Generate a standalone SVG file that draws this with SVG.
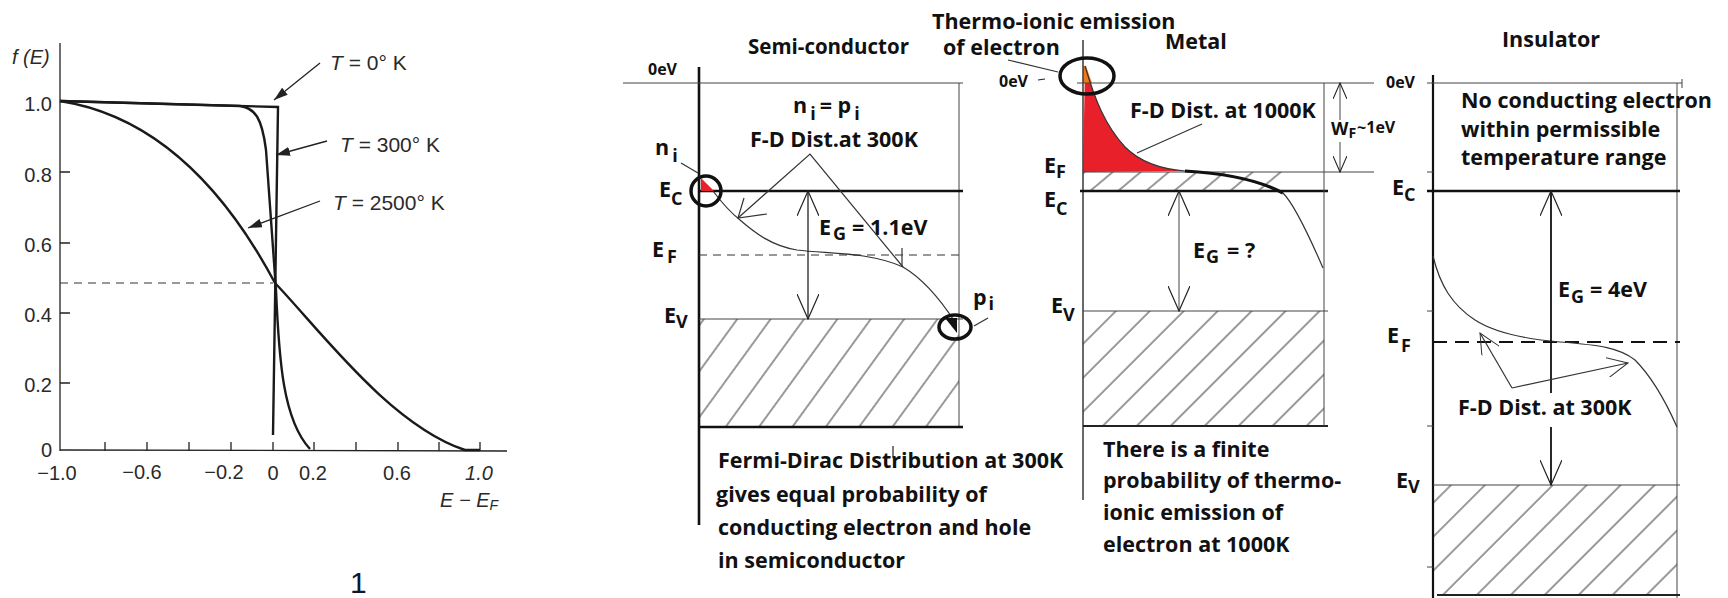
<svg xmlns="http://www.w3.org/2000/svg" width="1728" height="598" viewBox="0 0 1728 598">
<defs>
<style>
.pl{font-family:"Liberation Sans",Arial,sans-serif;fill:#2a2a2a;font-size:20px}
.it{font-style:italic}
.b{font-family:"Open Sans","Liberation Sans",sans-serif;font-weight:700;fill:#111}
.s20{font-size:21.5px}
.s21{font-size:21px}
.s15{font-size:16px}
.ln{stroke:#222;fill:none;stroke-width:1.3}
.thin{stroke:#444;fill:none;stroke-width:1}
.thick{stroke:#111;fill:none;stroke-width:2.6}
.curve{stroke:#333;fill:none;stroke-width:1.2}
.dash{stroke:#333;fill:none;stroke-width:1.2;stroke-dasharray:8 6}
.dashb{stroke:#111;fill:none;stroke-width:2;stroke-dasharray:14 8}
.ring{stroke:#111;fill:none;stroke-width:3.5}
</style>
<pattern id="h45" width="24" height="24" patternUnits="userSpaceOnUse" patternTransform="rotate(45)">
<line x1="1" y1="0" x2="1" y2="24" stroke="#333" stroke-width="1"/>
</pattern>
<pattern id="h36" width="27" height="27" patternUnits="userSpaceOnUse" patternTransform="rotate(36)">
<line x1="1" y1="0" x2="1" y2="27" stroke="#333" stroke-width="1"/>
</pattern>
<pattern id="h45s" width="18" height="18" patternUnits="userSpaceOnUse" patternTransform="rotate(50)">
<line x1="1" y1="0" x2="1" y2="18" stroke="#333" stroke-width="1"/>
</pattern>
<marker id="fa" viewBox="0 0 14 9" refX="14" refY="4.5" markerWidth="14" markerHeight="9" markerUnits="userSpaceOnUse" orient="auto">
<path d="M0,0 L14,4.5 L0,9 Z" fill="#222"/>
</marker>
<marker id="va" viewBox="0 0 26 22" refX="25" refY="11" markerWidth="26" markerHeight="22" markerUnits="userSpaceOnUse" orient="auto-start-reverse">
<path d="M0,0 L25,11 L0,22" fill="none" stroke="#222" stroke-width="1.2"/>
</marker>
<marker id="vm" viewBox="0 0 17 14" refX="16" refY="7" markerWidth="17" markerHeight="14" markerUnits="userSpaceOnUse" orient="auto-start-reverse">
<path d="M0,0 L16,7 L0,14" fill="none" stroke="#222" stroke-width="1.1"/>
</marker>
<marker id="vs" viewBox="0 0 22 20" refX="21" refY="10" markerWidth="22" markerHeight="20" markerUnits="userSpaceOnUse" orient="auto">
<path d="M0,0 L21,10 L0,20" fill="none" stroke="#333" stroke-width="1"/>
</marker>
</defs>
<rect width="1728" height="598" fill="#fff"/>

<g id="fermi-plot">
<line x1="60" y1="43" x2="60" y2="451" class="ln"/>
<line x1="60" y1="450" x2="507" y2="451" class="ln"/>
<g class="ln">
<path d="M60,172 h10 M60,243 h10 M60,313 h10 M60,383 h10"/>
<path d="M105,451 v-9 M147,451 v-9 M189,451 v-9 M231,451 v-9 M273,451 v-9 M314,451 v-9 M356,451 v-9 M398,451 v-9 M439,451 v-9 M480,451 v-9"/>
</g>
<line x1="60" y1="283" x2="273" y2="283" class="dash" stroke-dasharray="7 6"/>
<path d="M60,101 L278,107 L273,435" stroke="#1a1a1a" stroke-width="2.4" fill="none"/>
<path d="M60,101 L240,106 C255,108 262,118 266,150 L276,290 C279,360 283,420 310,449" stroke="#1a1a1a" stroke-width="2.4" fill="none"/>
<path d="M60,101 C150,115 220,180 275,283 C320,330 390,425 465,450 L480,450" stroke="#1a1a1a" stroke-width="2.4" fill="none"/>
<text class="pl it" x="12" y="64">f (E)</text>
<g class="pl" text-anchor="end">
<text x="52" y="111">1.0</text>
<text x="52" y="182">0.8</text>
<text x="52" y="252">0.6</text>
<text x="52" y="322">0.4</text>
<text x="52" y="392">0.2</text>
<text x="52" y="457">0</text>
</g>
<g class="pl" text-anchor="middle">
<text x="57" y="480">−1.0</text>
<text x="142" y="479">−0.6</text>
<text x="224" y="479">−0.2</text>
<text x="273" y="480">0</text>
<text x="313" y="480">0.2</text>
<text x="397" y="480">0.6</text>
<text x="479" y="480" class="it">1.0</text>
</g>
<text class="pl it" x="440" y="507">E − E<tspan font-size="14" dy="3">F</tspan></text>
<text class="pl s21" x="330" y="70"><tspan class="it">T</tspan> = 0° K</text>
<text class="pl s21" x="340" y="152"><tspan class="it">T</tspan> = 300° K</text>
<text class="pl s21" x="333" y="210"><tspan class="it">T</tspan> = 2500° K</text>
<text x="350" y="593" font-family="Liberation Sans, Arial, sans-serif" font-size="30" fill="#0d1733">1</text>
</g>

<g id="semiconductor">
<rect x="699" y="319" width="260" height="108" fill="url(#h36)"/>
<line x1="699" y1="67" x2="699" y2="525" class="thick"/>
<line x1="623" y1="83" x2="963" y2="83" class="thin"/>
<line x1="959" y1="83" x2="959" y2="428" class="thin"/>
<line x1="699" y1="191" x2="963" y2="191" class="thick"/>
<line x1="699" y1="255" x2="963" y2="255" class="dash"/>
<line x1="699" y1="319" x2="963" y2="319" class="thin"/>
<line x1="699" y1="427" x2="963" y2="427" class="thick"/>
<path d="M713,191 C722,203 730,212 740,220 C755,233 772,246 797,250 C830,254 870,252 903,267 C925,280 942,302 955,322" class="curve"/>
<polygon points="701,178 701,191 714,191" fill="#e8202a"/>
<circle cx="706" cy="191" r="15" class="ring"/>
<polygon points="945,318 957,318 957,333" fill="#111"/>
<ellipse cx="955" cy="327" rx="16" ry="12" class="ring"/>
<line x1="893" y1="446" x2="893" y2="458" stroke="#222" stroke-width="1.2"/>
<text class="b" font-size="20.5" x="748" y="54">Semi-conductor</text>
<text class="b s15" x="648" y="75">0eV</text>
<text class="b s20" x="655" y="155">n<tspan font-size="18" dx="3" dy="7">i</tspan></text>
<text class="b s20" x="659" y="197">E<tspan font-size="18" dy="8">C</tspan></text>
<text class="b s20" x="652" y="257">E<tspan font-size="18" dx="3" dy="6">F</tspan></text>
<text class="b s20" x="664" y="323">E<tspan font-size="18" dy="5">V</tspan></text>
<text class="b s20" x="793" y="113">n<tspan font-size="18" dx="3" dy="7">i</tspan><tspan dx="4" dy="-7">= p</tspan><tspan font-size="18" dx="3" dy="7">i</tspan></text>
<text class="b s20" x="750" y="147">F-D Dist.at 300K</text>
<text class="b s20" x="819" y="235">E<tspan font-size="18" dx="2" dy="5">G</tspan><tspan dx="6" dy="-5">= 1.1eV</tspan></text>
<text class="b s20" x="973" y="305">p<tspan font-size="18" dx="2" dy="5">i</tspan></text>
<g class="b s20">
<text x="718" y="468">Fermi-Dirac Distribution at 300K</text>
<text x="716" y="502">gives equal probability of</text>
<text x="718" y="535">conducting electron and hole</text>
<text x="718" y="568">in semiconductor</text>
</g>
</g>

<g id="metal">
<rect x="1083" y="311" width="241" height="115" fill="url(#h45)"/>
<rect x="1083" y="172" width="200" height="19" fill="url(#h45s)"/>
<path d="M1085,66 C1095,100 1105,125 1125,147 C1140,162 1160,169 1185,171 L1083,172 Z" fill="#e8202a"/>
<polygon points="1083,66 1086,66 1092,83 1083,83" fill="#f07a1a"/>
<line x1="1083" y1="40" x2="1083" y2="500" stroke="#444" stroke-width="1.6"/>
<line x1="1077" y1="83" x2="1374" y2="83" class="thin"/>
<line x1="1083" y1="172" x2="1374" y2="172" class="thin"/>
<line x1="1080" y1="191" x2="1328" y2="191" class="thick"/>
<line x1="1083" y1="311" x2="1328" y2="311" class="thin"/>
<line x1="1083" y1="426" x2="1328" y2="426" stroke="#222" stroke-width="2"/>
<line x1="1324" y1="83" x2="1324" y2="426" class="thin"/>
<path d="M1085,66 C1095,100 1105,125 1125,147 C1140,162 1160,169 1185,171" class="curve"/>
<path d="M1185,171 C1220,173 1255,178 1283,193" stroke="#111" stroke-width="3.2" fill="none"/>
<path d="M1283,193 C1295,205 1310,238 1323,268" class="curve"/>
<ellipse cx="1087" cy="76" rx="27" ry="18" class="ring"/>
<text class="b s20" x="932" y="29">Thermo-ionic emission</text>
<text class="b s20" x="943" y="55">of electron</text>
<text class="b s20" x="1165" y="49">Metal</text>
<text class="b s15" x="999" y="87">0eV</text>
<line x1="1038" y1="80" x2="1045" y2="79" stroke="#222" stroke-width="1.2"/>
<text class="b s20" x="1044" y="173">E<tspan font-size="18" dy="5">F</tspan></text>
<text class="b s20" x="1044" y="207">E<tspan font-size="18" dy="8">C</tspan></text>
<text class="b s20" x="1051" y="313">E<tspan font-size="18" dy="8">V</tspan></text>
<text class="b s20" x="1130" y="118">F-D Dist. at 1000K</text>
<text class="b s20" x="1193" y="258">E<tspan font-size="18" dx="1" dy="5">G</tspan><tspan dx="8" dy="-5">= ?</tspan></text>
<text class="b" font-size="18" x="1331" y="135">W<tspan font-size="14" dy="3">F</tspan><tspan font-size="16" dx="1" dy="-5">~1eV</tspan></text>
<g class="b s20">
<text x="1103" y="457">There is a finite</text>
<text x="1103" y="488">probability of thermo-</text>
<text x="1103" y="520">ionic emission of</text>
<text x="1103" y="552">electron at 1000K</text>
</g>
</g>

<g id="insulator">
<rect x="1433" y="485" width="244" height="110" fill="url(#h45)"/>
<line x1="1433" y1="75" x2="1433" y2="598" stroke="#111" stroke-width="2.2"/>
<line x1="1427" y1="83" x2="1682" y2="83" class="thin"/>
<line x1="1682" y1="79" x2="1682" y2="88" class="thin"/>
<line x1="1677" y1="83" x2="1677" y2="598" class="thin"/>
<path d="M1427,172 h6 M1427,311 h6 M1427,426 h6 M1427,567 h6" class="thin"/>
<line x1="1427" y1="191" x2="1680" y2="191" class="thick"/>
<line x1="1433" y1="342" x2="1680" y2="342" class="dashb"/>
<line x1="1433" y1="485" x2="1680" y2="485" class="thin"/>
<line x1="1437" y1="595" x2="1680" y2="595" stroke="#222" stroke-width="2"/>
<path d="M1433,256 C1440,285 1452,305 1475,320 C1495,333 1525,339 1560,342 C1600,345 1620,348 1635,360 C1650,375 1665,400 1677,427" class="curve"/>
<text class="b s20" x="1502" y="47">Insulator</text>
<text class="b s15" x="1386" y="88">0eV</text>
<g class="b s20">
<text x="1461" y="108">No conducting electron</text>
<text x="1461" y="137">within permissible</text>
<text x="1461" y="165">temperature range</text>
</g>
<text class="b s20" x="1392" y="195">E<tspan font-size="18" dy="6">C</tspan></text>
<text class="b s20" x="1387" y="343">E<tspan font-size="18" dx="2" dy="9">F</tspan></text>
<text class="b s20" x="1396" y="488">E<tspan font-size="18" dy="5">V</tspan></text>
<text class="b s20" x="1558" y="297">E<tspan font-size="18" dx="1" dy="6">G</tspan><tspan dx="6" dy="-6">= 4eV</tspan></text>
<text class="b s20" x="1458" y="415">F-D Dist. at 300K</text>
</g>

<g id="connectors">
<line x1="320" y1="63" x2="274" y2="100" class="ln" marker-end="url(#fa)"/>
<line x1="327" y1="141" x2="276" y2="155" class="ln" marker-end="url(#fa)"/>
<line x1="320" y1="201" x2="248" y2="228" class="ln" marker-end="url(#fa)"/>
<line x1="808" y1="191" x2="808" y2="319" class="ln" marker-start="url(#va)" marker-end="url(#va)"/>
<polyline points="738,218 810,154 903,267" class="curve"/>
<path d="M744,198 L738,218 L767,214" class="curve"/>
<path d="M902,248 L902,267" class="curve"/>
<line x1="681" y1="163" x2="698" y2="173" class="curve"/>
<line x1="988" y1="318" x2="974" y2="326" class="curve"/>
<line x1="1008" y1="60" x2="1058" y2="72" class="curve"/>
<line x1="1202" y1="124" x2="1137" y2="153" class="curve"/>
<line x1="1179" y1="311" x2="1179" y2="191" class="thin" marker-start="url(#va)" marker-end="url(#va)"/>
<line x1="1340" y1="120" x2="1340" y2="83" class="thin" marker-end="url(#vm)"/>
<line x1="1340" y1="142" x2="1340" y2="172" class="thin" marker-end="url(#vm)"/>
<line x1="1551" y1="393" x2="1551" y2="191" stroke="#111" stroke-width="1.8" marker-end="url(#va)"/>
<line x1="1551" y1="427" x2="1551" y2="485" stroke="#111" stroke-width="1.8" marker-end="url(#va)"/>
<line x1="1512" y1="388" x2="1480" y2="333" class="curve" marker-end="url(#vs)"/>
<line x1="1512" y1="388" x2="1628" y2="363" class="curve" marker-end="url(#vs)"/>
</g>
</svg>
